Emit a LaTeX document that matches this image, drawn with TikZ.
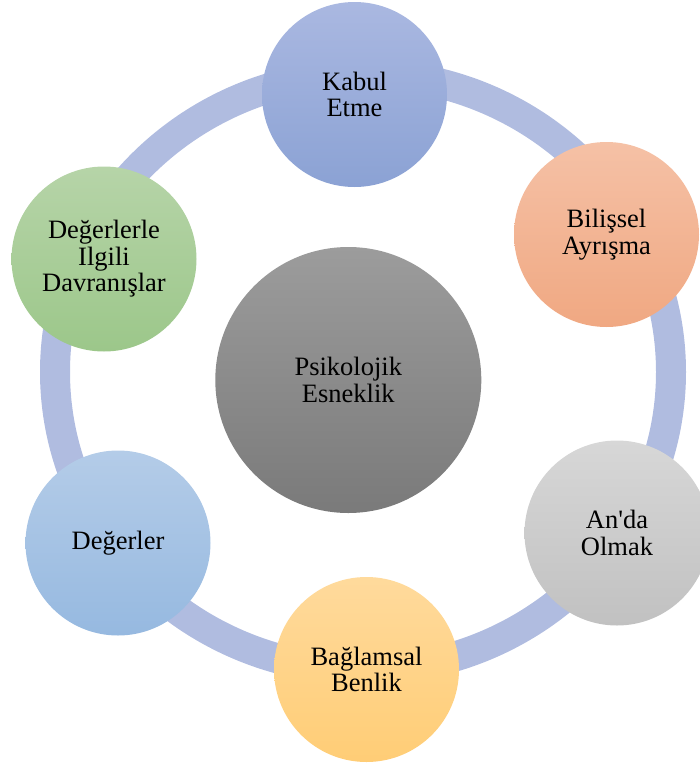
\documentclass[tikz,border=0pt]{standalone}
\usepackage{fontspec}
\setmainfont{Liberation Serif}
\begin{document}
\begin{tikzpicture}[x=1pt,y=-1pt,
  bub/.style={circle,minimum size=185pt,inner sep=0pt,align=center,
    font=\fontsize{26.5}{26.5}\selectfont,text=black},
  ringline/.style={draw=ringc,line width=30pt}]
\definecolor{ringc}{RGB}{176,188,224}
\definecolor{kabT}{RGB}{170,184,225}\definecolor{kabB}{RGB}{139,162,212}
\definecolor{bilT}{RGB}{245,193,166}\definecolor{bilB}{RGB}{240,168,130}
\definecolor{andT}{RGB}{215,215,215}\definecolor{andB}{RGB}{193,193,193}
\definecolor{bagT}{RGB}{255,218,156}\definecolor{bagB}{RGB}{255,205,118}
\definecolor{degT}{RGB}{180,204,232}\definecolor{degB}{RGB}{150,185,224}
\definecolor{dilT}{RGB}{182,212,168}\definecolor{dilB}{RGB}{156,199,138}
\definecolor{psiT}{RGB}{156,156,156}\definecolor{psiB}{RGB}{122,122,122}
\useasboundingbox (0,0) rectangle (700,769);
\clip (0,0) rectangle (700,769);
\draw[ringline] (363,372) ellipse [x radius=308, y radius=298];
\node[bub,top color=kabT,bottom color=kabB] (kabul) at (354.5,94.5) {Kabul\\Etme};
\node[bub,top color=bilT,bottom color=bilB] (bilissel) at (606.5,234.5) {Bilişsel\\Ayrışma};
\node[bub,top color=andT,bottom color=andB] (anda) at (617,533) {An\textquotesingle da\\Olmak};
\node[bub,top color=bagT,bottom color=bagB] (baglamsal) at (366.5,669.5) {Bağlamsal\\Benlik};
\node[bub,top color=degT,bottom color=degB] (degerler) at (118,543) {Değerler};
\node[bub,top color=dilT,bottom color=dilB] (ilgili) at (104,259) {Değerlerle\\Ilgili\\Davranışlar};
\node[bub,minimum size=266pt,top color=psiT,bottom color=psiB] (psi) at (348.3,380) {Psikolojik\\Esneklik};
\end{tikzpicture}
\end{document}
